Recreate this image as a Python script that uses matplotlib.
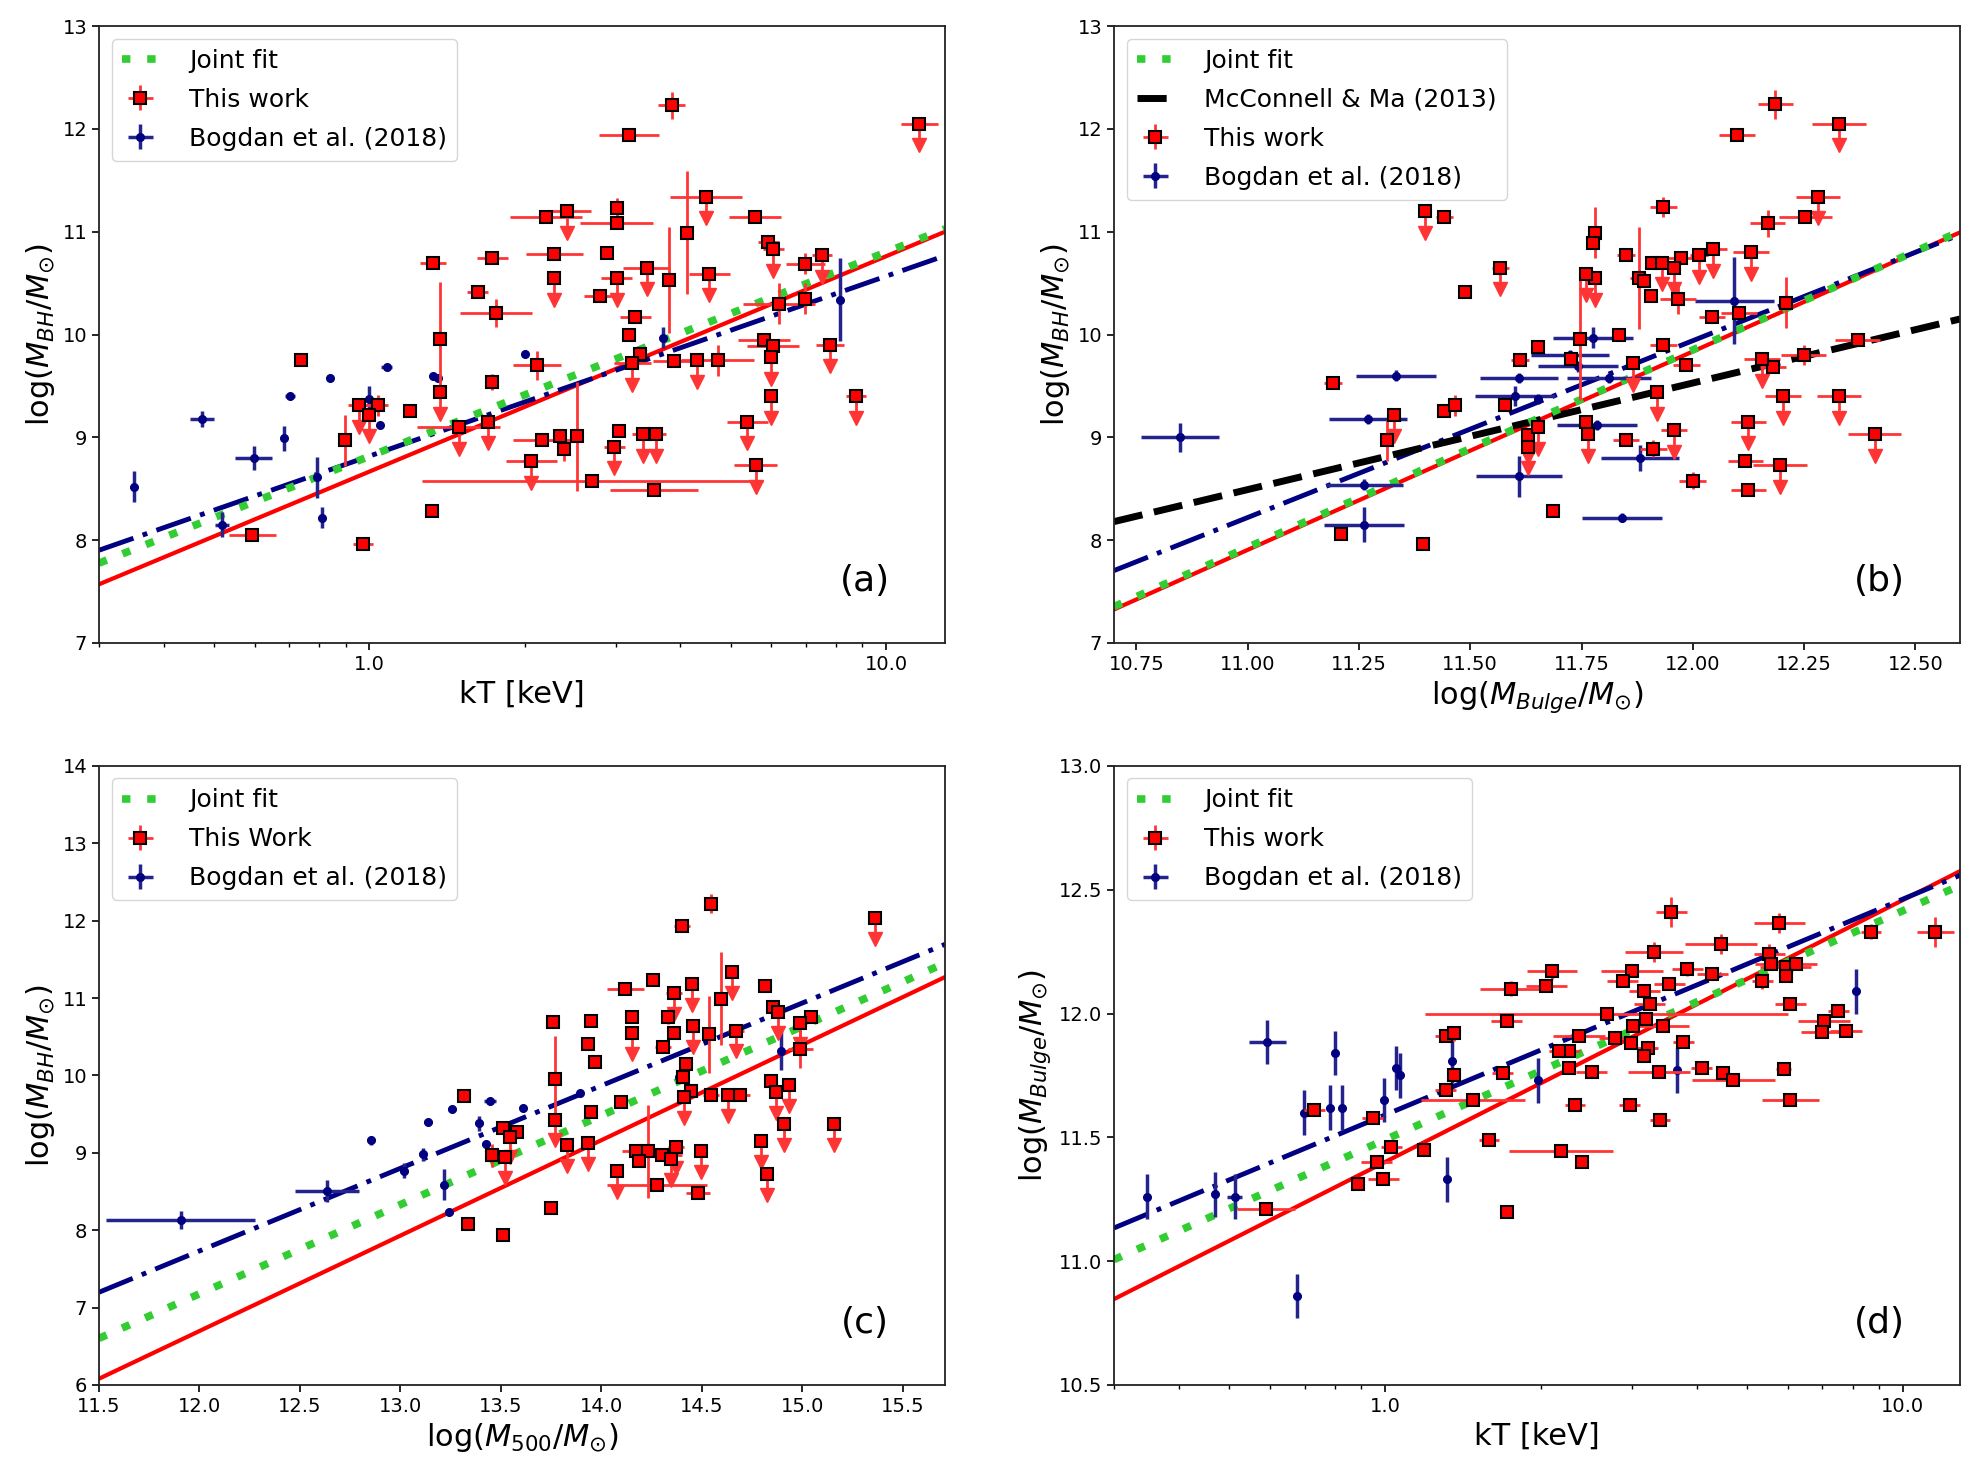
#!/usr/bin/env python3
# -*- coding: utf-8 -*-

import numpy as np
import matplotlib
matplotlib.use("Agg")
import matplotlib.pyplot as plt
from matplotlib.ticker import FormatStrFormatter, NullFormatter, MultipleLocator

plt.rcParams['font.family'] = ['DejaVu Sans']

# ---------------- panel (a): log M_BH vs kT ----------------
a_red_kt = [0.738, 0.594, 0.973, 0.896, 0.954, 1.0, 1.038, 1.20, 1.33, 1.37, 1.37, 1.32, 1.49, 1.70, 1.73, 1.62, 1.76, 1.73,
            3.85, 3.18, 11.6, 4.48, 4.11, 5.58, 5.92, 6.05, 6.98, 7.52, 6.2, 6.98, 7.8, 8.75, 5.8, 6.05, 6.0, 6.0, 5.39, 5.59,
            4.72, 4.31, 3.89, 4.55, 3.80, 3.44, 3.01, 2.89, 3.01, 3.01, 2.41, 2.20, 2.28, 2.28, 2.79, 2.11, 3.27, 3.18, 3.34, 3.23,
            2.16, 2.34, 2.38, 2.52, 2.06, 2.70, 3.04, 2.98, 3.38, 3.59, 3.56]
a_red_m = [9.75, 8.05, 7.96, 8.97, 9.31, 9.22, 9.31, 9.26, 10.70, 9.96, 9.44, 8.28, 9.10, 9.15, 10.74, 10.41, 10.21, 9.54,
           12.23, 11.94, 12.05, 11.34, 10.99, 11.14, 10.90, 10.83, 10.69, 10.77, 10.30, 10.35, 9.90, 9.40, 9.95, 9.89, 9.78, 9.40, 9.15, 8.73,
           9.75, 9.75, 9.74, 10.59, 10.53, 10.65, 10.55, 10.79, 11.23, 11.08, 11.20, 11.14, 10.78, 10.55, 10.37, 9.70, 10.17, 10.00, 9.81, 9.72,
           8.97, 9.01, 8.89, 9.01, 8.77, 8.58, 9.06, 8.91, 9.03, 9.03, 8.49]
a_red_dex = [0.01, 0.045, 0.02, 0.0, 0.02, 0.0, 0.02, 0.01, 0.025, 0.0, 0.0, 0.0, 0.08, 0.0, 0.03, 0.02, 0.07, 0.0,
             0.026, 0.058, 0.036, 0.07, 0.0, 0.05, 0.02, 0.02, 0.037, 0.02, 0.07, 0.0, 0.027, 0.02, 0.05, 0.05, 0.0, 0.0, 0.04, 0.042,
             0.07, 0.0, 0.04, 0.04, 0.0, 0.045, 0.03, 0.01, 0.0, 0.07, 0.048, 0.07, 0.055, 0.0, 0.03, 0.047, 0.03, 0.0, 0.0, 0.035,
             0.056, 0.0, 0.0, 0.0, 0.05, 0.33, 0.0, 0.02, 0.02, 0.02, 0.085]
a_red_dm = [0.05, 0.0, 0.05, 0.25, 0, 0, 0.1, 0.05, 0.05, 0.55, 0, 0, 0, 0, 0.05, 0, 0.14, 0.08,
            0.13, 0.05, 0, 0, 0.6, 0, 0.05, 0, 0.1, 0, 0.2, 0.15, 0, 0, 0, 0, 0, 0, 0, 0,
            0.15, 0, 0, 0, 0.52, 0, 0, 0, 0.1, 0.05, 0, 0, 0, 0, 0, 0.14, 0.05, 0, 0.05, 0,
            0, 0, 0.12, 0.53, 0, 0.05, 0, 0, 0, 0, 0.05]
a_red_lim = [0, 0, 0, 0, 1, 1, 0, 0, 0, 0, 1, 0, 1, 1, 0, 0, 0, 0,
             0, 0, 1, 1, 0, 0, 0, 1, 0, 1, 0, 0, 1, 1, 0, 0, 1, 1, 1, 1,
             0, 1, 0, 1, 0, 1, 1, 0, 0, 0, 1, 0, 0, 1, 0, 0, 0, 0, 0, 1,
             0, 0, 0, 0, 1, 0, 0, 1, 1, 1, 0]

a_blue_kt = [0.351, 0.475, 0.598, 0.519, 0.684, 0.703, 0.839, 0.792, 0.809, 1.0, 1.05, 1.08, 1.33, 1.36, 2.0, 3.70, 8.15]
a_blue_m = [8.52, 9.18, 8.80, 8.15, 8.99, 9.40, 9.58, 8.61, 8.22, 9.37, 9.12, 9.68, 9.60, 9.58, 9.81, 9.97, 10.34]
a_blue_dex = [0.0, 0.023, 0.036, 0.013, 0.0, 0.01, 0.0, 0.0, 0.0, 0.0, 0.0, 0.01, 0.0, 0.0, 0.0, 0.0, 0.0]
a_blue_dm = [0.15, 0.08, 0.12, 0.12, 0.12, 0.03, 0.03, 0.2, 0.1, 0.13, 0.03, 0.03, 0.03, 0.03, 0.03, 0.1, 0.4]

# fits: intercept at log10(kT) = 0, slope
a_fit_joint = (8.815, 1.986)
a_fit_this = (8.666, 2.095)
a_fit_bogdan = (8.817, 1.75)

# ---------------- panel (b): log M_BH vs log M_bulge ----------------
b_red_x = [11.399, 11.442, 11.489, 11.192, 11.209, 11.395, 11.314, 11.329, 11.442, 11.465,
           12.185, 12.099, 12.328, 12.281, 12.253, 12.168, 11.934, 12.131, 12.046, 12.014,
           11.973, 11.958, 11.930, 11.908, 11.878, 11.891, 11.906, 11.966, 11.849, 11.780,
           11.775, 11.780, 11.759, 11.568, 11.746, 11.835, 11.652, 11.611, 11.726, 12.043,
           12.103, 12.210, 11.934, 11.865, 11.985, 11.920, 11.577, 11.630, 11.652, 11.630,
           11.761, 11.765, 11.850, 11.911, 11.958, 12.000, 11.685, 12.155, 12.180, 12.249,
           12.370, 12.202, 12.328, 12.125, 12.118, 12.125, 12.196, 12.408]
b_red_m = [11.20, 11.14, 10.41, 9.53, 8.06, 7.96, 8.97, 9.22, 9.26, 9.31,
           12.24, 11.94, 12.05, 11.34, 11.14, 11.08, 11.24, 10.80, 10.83, 10.77,
           10.74, 10.65, 10.70, 10.70, 10.55, 10.52, 10.37, 10.35, 10.77, 10.99,
           10.89, 10.55, 10.59, 10.65, 9.96, 10.00, 9.88, 9.75, 9.76, 10.17,
           10.21, 10.31, 9.90, 9.72, 9.70, 9.44, 9.31, 9.02, 9.10, 8.91,
           9.15, 9.03, 8.97, 8.89, 9.07, 8.58, 8.28, 9.76, 9.68, 9.80,
           9.95, 9.40, 9.40, 9.15, 8.77, 8.49, 8.73, 9.03]
b_red_dx = [0, 0.019, 0, 0.02, 0, 0, 0, 0, 0, 0,
            0.039, 0.04, 0.06, 0.05, 0.06, 0.04, 0.03, 0.04, 0.03, 0.02,
            0.03, 0, 0, 0, 0.02, 0, 0, 0.04, 0.02, 0,
            0, 0, 0, 0.02, 0, 0, 0, 0.02, 0, 0.03,
            0.04, 0, 0.03, 0, 0.03, 0, 0, 0, 0, 0,
            0, 0, 0.03, 0.03, 0.03, 0.03, 0, 0.04, 0.03, 0.05,
            0.05, 0.04, 0.05, 0.04, 0.04, 0.04, 0.06, 0.06]
b_red_dm = [0, 0, 0, 0.04, 0, 0.04, 0.2, 0, 0.05, 0.1,
            0.14, 0.04, 0, 0, 0, 0.13, 0.1, 0, 0, 0,
            0, 0, 0, 0, 0.5, 0, 0, 0.15, 0, 0.25,
            0, 0, 0.1, 0, 0.6, 0.03, 0.03, 0, 0, 0,
            0, 0.25, 0.05, 0, 0, 0, 0, 0, 0, 0,
            0.05, 0, 0, 0.08, 0, 0.08, 0, 0, 0, 0.1,
            0.05, 0, 0, 0, 0.05, 0.05, 0, 0]
b_red_lim = [1, 0, 0, 0, 0, 0, 0, 1, 0, 0,
             0, 0, 1, 1, 0, 0, 0, 1, 1, 1,
             0, 1, 1, 0, 0, 0, 0, 0, 0, 0,
             0, 1, 1, 1, 0, 0, 0, 0, 0, 0,
             0, 0, 0, 1, 0, 1, 0, 1, 1, 1,
             0, 1, 0, 0, 1, 0, 0, 1, 0, 0,
             0, 1, 1, 1, 0, 0, 1, 1]

b_blue_x = [10.848, 11.333, 11.271, 11.262, 11.262, 12.093, 11.775, 11.724, 11.742,
            11.610, 11.812, 11.600, 11.652, 11.784, 11.881, 11.610, 11.840]
b_blue_m = [9.00, 9.60, 9.18, 8.54, 8.15, 10.33, 9.97, 9.80, 9.69,
            9.58, 9.58, 9.40, 9.37, 9.12, 8.80, 8.62, 8.22]
b_blue_dx = [0.088, 0.09, 0.088, 0.087, 0.09, 0.089, 0.09, 0.088, 0.09,
             0.088, 0.095, 0.09, 0.0, 0.09, 0.088, 0.096, 0.09]
b_blue_dm = [0.14, 0.05, 0.05, 0.05, 0.17, 0.42, 0.1, 0.05, 0.05,
             0.05, 0.05, 0.1, 0.05, 0.05, 0.13, 0.2, 0.04]

# fits: value at log M_bulge = 11.5, slope
b_fit_joint = (8.89, 1.92)
b_fit_this = (8.87, 1.93)
b_fit_bogdan = (9.08, 1.72)
b_fit_mcconnell = (9.01, 1.037)

# ---------------- panel (c): log M_BH vs log M_500 ----------------
c_red_x = [13.315, 13.334, 13.455, 13.512, 13.512, 13.545, 13.578, 13.520, 14.547, 14.401,
           15.364, 14.650, 14.594, 14.816, 14.854, 14.879, 14.991, 15.044, 14.991, 14.120,
           14.257, 14.360, 14.453, 14.153, 14.153, 14.332, 14.360, 14.307, 14.456, 14.534,
           14.668, 14.423, 14.406, 14.445, 14.411, 14.547, 14.630, 14.691, 14.845, 14.870,
           14.933, 14.907, 15.157, 14.792, 14.826, 13.760, 13.768, 13.768, 13.946, 13.934,
           13.967, 13.947, 13.934, 13.831, 14.100, 14.174, 14.232, 14.188, 14.300, 14.370,
           14.348, 14.497, 14.080, 14.277, 14.480, 13.747]
c_red_m = [9.74, 8.08, 8.97, 7.94, 9.32, 9.21, 9.27, 8.94, 12.22, 11.93,
           12.03, 11.34, 10.99, 11.15, 10.88, 10.82, 10.68, 10.76, 10.34, 11.12,
           11.23, 11.06, 11.18, 10.76, 10.55, 10.76, 10.55, 10.37, 10.64, 10.53,
           10.58, 10.15, 9.98, 9.80, 9.72, 9.75, 9.75, 9.75, 9.93, 9.78,
           9.88, 9.37, 9.37, 9.15, 8.73, 10.69, 9.96, 9.43, 10.71, 10.40,
           10.17, 9.53, 9.13, 9.10, 9.66, 9.02, 9.02, 8.89, 8.97, 9.07,
           8.92, 9.02, 8.77, 8.59, 8.48, 8.29]
c_red_dx = [0, 0, 0, 0, 0.02, 0, 0.02, 0, 0, 0.04,
            0, 0.03, 0, 0.03, 0, 0.03, 0.03, 0.03, 0.06, 0.09,
            0, 0.04, 0.02, 0.03, 0, 0, 0, 0.04, 0.03, 0,
            0.04, 0, 0, 0.02, 0, 0.04, 0.03, 0.05, 0.03, 0,
            0, 0, 0, 0, 0, 0, 0, 0, 0, 0,
            0.02, 0, 0.02, 0.02, 0.03, 0.07, 0, 0, 0.1, 0.04,
            0, 0, 0.02, 0.25, 0.06, 0]
c_red_dm = [0, 0, 0.15, 0, 0, 0, 0, 0, 0.12, 0.05,
            0, 0, 0.6, 0, 0.1, 0, 0, 0, 0.25, 0,
            0.05, 0, 0, 0, 0, 0.1, 0, 0, 0, 0.5,
            0, 0.05, 0.05, 0, 0, 0, 0, 0.08, 0, 0,
            0, 0, 0, 0, 0, 0, 0.55, 0, 0, 0,
            0, 0, 0, 0, 0.05, 0, 0.6, 0, 0, 0,
            0, 0, 0, 0.05, 0, 0]
c_red_lim = [0, 0, 0, 0, 0, 1, 0, 1, 0, 0,
             1, 1, 0, 0, 0, 1, 1, 0, 0, 0,
             0, 1, 1, 0, 1, 0, 0, 0, 1, 0,
             1, 0, 0, 0, 1, 0, 1, 0, 0, 1,
             1, 1, 1, 1, 1, 0, 0, 1, 0, 0,
             0, 0, 1, 1, 0, 0, 0, 0, 0, 1,
             1, 1, 1, 0, 0, 0]

c_blue_x = [11.907, 12.636, 12.854, 13.017, 13.110, 13.136, 13.215, 13.240,
            13.257, 13.390, 13.426, 13.445, 13.608, 13.893, 14.385, 14.895]
c_blue_m = [8.13, 8.51, 9.16, 8.77, 8.98, 9.40, 8.59, 8.23,
            9.56, 9.38, 9.11, 9.67, 9.58, 9.77, 9.98, 10.32]
c_blue_dx = [0.37, 0.16, 0.02, 0.02, 0.02, 0.02, 0.0, 0.02,
             0.02, 0.02, 0.02, 0.03, 0.0, 0.0, 0.0, 0.0]
c_blue_dm = [0.12, 0.14, 0.06, 0.1, 0.08, 0.03, 0.2, 0.03,
             0.03, 0.1, 0.05, 0.03, 0.03, 0.03, 0.08, 0.25]

# fits: value at log M_500 = 13.0, slope
c_fit_joint = (8.33, 1.152)
c_fit_this = (7.93, 1.233)
c_fit_bogdan = (8.80, 1.068)

# ---------------- panel (d): log M_bulge vs kT ----------------
d_red_kt = [0.59, 0.731, 0.887, 0.948, 0.964, 0.993, 1.03, 1.19, 1.31, 1.36,
            1.31, 1.36, 1.48, 1.59, 3.57, 5.78, 4.46, 3.31, 2.10, 1.75,
            2.05, 3.0, 2.88, 3.17, 3.54, 3.84, 4.29, 5.52, 5.56, 5.94,
            6.22, 5.94, 5.36, 6.07, 8.69, 11.56, 7.51, 7.04, 6.97, 7.77,
            5.89, 6.07, 4.09, 4.5, 4.71, 3.77, 3.44, 3.20, 3.25, 3.02,
            2.99, 3.22, 3.17, 2.78, 2.68, 2.37, 2.27, 2.17, 2.27, 2.51,
            3.38, 1.69, 1.72, 2.33, 2.97, 3.40, 2.19, 2.40, 1.72]
d_red_m = [11.21, 11.61, 11.31, 11.58, 11.40, 11.33, 11.46, 11.45, 11.69, 11.75,
           11.91, 11.92, 11.65, 11.49, 12.41, 12.365, 12.28, 12.25, 12.17, 12.10,
           12.11, 12.17, 12.13, 12.09, 12.12, 12.18, 12.16, 12.24, 12.20, 12.19,
           12.20, 12.15, 12.13, 12.04, 12.33, 12.33, 12.01, 11.97, 11.925, 11.93,
           11.775, 11.65, 11.78, 11.76, 11.73, 11.885, 11.95, 11.98, 12.04, 11.95,
           11.88, 11.86, 11.83, 11.90, 12.0, 11.91, 11.85, 11.85, 11.78, 11.765,
           11.765, 11.76, 11.97, 11.63, 11.63, 11.57, 11.445, 11.40, 11.20]
d_red_dex = [0.056, 0.02, 0, 0.02, 0.03, 0.03, 0.02, 0, 0.02, 0,
             0.02, 0, 0.1, 0.02, 0.03, 0.05, 0.07, 0.056, 0.048, 0.06,
             0.04, 0.06, 0.03, 0.03, 0.03, 0.03, 0.03, 0.03, 0.03, 0.05,
             0.04, 0, 0.02, 0.03, 0.02, 0.036, 0.02, 0.05, 0.04, 0.03,
             0.015, 0.055, 0.02, 0, 0.08, 0.02, 0.05, 0, 0.03, 0,
             0, 0.02, 0, 0.03, 0.35, 0.05, 0.02, 0.02, 0, 0.03,
             0.06, 0.02, 0.03, 0.02, 0.02, 0.02, 0.1, 0, 0]
d_red_dm = [0, 0, 0, 0, 0, 0, 0, 0, 0, 0,
            0, 0.03, 0, 0, 0.06, 0.04, 0.04, 0.04, 0.03, 0.03,
            0, 0, 0, 0.03, 0, 0.03, 0, 0.04, 0, 0,
            0, 0, 0.03, 0, 0.03, 0.06, 0, 0, 0, 0,
            0, 0, 0, 0, 0, 0, 0, 0.02, 0, 0,
            0, 0, 0, 0, 0, 0, 0, 0, 0, 0,
            0, 0, 0, 0, 0, 0, 0, 0, 0]
d_red_lim = [0] * len(d_red_kt)

d_blue_kt = [0.347, 0.471, 0.513, 0.593, 0.677, 0.697, 0.785, 0.803, 0.828,
             0.995, 1.05, 1.07, 1.32, 1.35, 1.98, 3.66, 8.13]
d_blue_m = [11.26, 11.27, 11.26, 11.885, 10.86, 11.60, 11.62, 11.84, 11.62,
            11.65, 11.78, 11.75, 11.33, 11.81, 11.73, 11.77, 12.09]
d_blue_dex = [0.0, 0.0, 0.015, 0.036, 0.0, 0.0, 0.0, 0.0, 0.0,
              0.0, 0.0, 0.0, 0.0, 0.0, 0.0, 0.0, 0.0]
d_blue_dm = [0.09] * len(d_blue_kt)

# fits: intercept at log10(kT) = 0, slope
d_fit_joint = (11.49, 0.925)
d_fit_this = (11.40, 1.058)
d_fit_bogdan = (11.59, 0.872)

# ---------------- styles ----------------
RED_ERR = '#ff3535'
BLUE_ERR = '#24248c'
RED_LINE = dict(color='red', lw=3, zorder=2)
BLUE_LINE = dict(color='navy', lw=3.5, dashes=(7.5, 2, 1, 2), zorder=2)
GREEN_LINE = dict(color='limegreen', lw=5.5, dashes=(1.1, 2.2), zorder=2.2)
BLACK_LINE = dict(color='black', lw=5, dashes=(4.2, 1.7), zorder=2.1)


def make_xerr(x, dx, logx):
    x = np.asarray(x, float)
    dx = np.asarray(dx, float)
    if logx:
        return np.vstack([x - x / 10 ** dx, x * 10 ** dx - x])
    return np.vstack([dx, dx])


def plot_fit(ax, fit, pivot, logx, label=None, **style):
    intercept, slope = fit
    lo, hi = ax.get_xlim()
    if logx:
        xs = np.logspace(np.log10(lo), np.log10(hi), 200)
        ys = intercept + slope * np.log10(xs)
    else:
        xs = np.linspace(lo, hi, 200)
        ys = intercept + slope * (xs - pivot)
    ax.plot(xs, ys, label=label, **style)


def plot_red(ax, x, m, dx, dm, lim, logx, arrow, label):
    x = np.asarray(x, float)
    m = np.asarray(m, float)
    dm = np.asarray(dm, float)
    xe = make_xerr(x, dx, logx)
    lim = np.asarray(lim, bool)
    ok = ~lim
    style = dict(fmt='s', ms=9, mfc='red', mec='black', mew=1.5,
                 ecolor=RED_ERR, elinewidth=2, capsize=0, zorder=4)
    ax.errorbar(x[ok], m[ok], xerr=xe[:, ok], yerr=dm[ok], label=label, **style)
    if lim.any():
        n = lim.sum()
        # upper limits: bar down from the point, ending in an arrow head
        ax.errorbar(x[lim], m[lim], xerr=xe[:, lim],
                    yerr=[np.full(n, arrow), np.zeros(n)], **style)
        ax.plot(x[lim], m[lim] - arrow, 'v', color=RED_ERR, ms=9.5, zorder=3.9)


def plot_blue(ax, x, m, dx, dm, logx):
    xe = make_xerr(x, dx, logx)
    ax.errorbar(x, m, xerr=xe, yerr=dm, fmt='o', ms=5.5, color='navy',
                ecolor=BLUE_ERR, elinewidth=2.5, capsize=0, zorder=3,
                label='Bogdan et al. (2018)')


def style_axes(ax, xlabel, ylabel, letter, logx):
    ax.set_xlabel(xlabel, fontsize=22)
    ax.set_ylabel(ylabel, fontsize=22)
    ax.tick_params(which='major', labelsize=14, width=1.2, length=5)
    ax.tick_params(which='minor', width=1.0, length=3)
    if logx:
        ax.xaxis.set_major_formatter(FormatStrFormatter('%.1f'))
        ax.xaxis.set_minor_formatter(NullFormatter())
    for sp in ax.spines.values():
        sp.set_linewidth(1.3)
        sp.set_color('#222222')
    ax.text(0.905, 0.10, letter, transform=ax.transAxes, fontsize=26,
            ha='center', va='center')
    ax.legend(loc='upper left', fontsize=18, handlelength=1.5,
              handletextpad=1.2, labelspacing=0.6, borderaxespad=0.5)


if __name__ == "__main__":
    fig = plt.figure(figsize=(19.84, 14.71), dpi=100)

    # (a)
    ax = fig.add_axes([0.0499, 0.5629, 0.4264, 0.4194])
    ax.set_xscale('log')
    ax.set_xlim(0.30, 13.0)
    ax.set_ylim(7, 13)
    ax.yaxis.set_major_locator(MultipleLocator(1))
    plot_fit(ax, a_fit_this, 0, True, **RED_LINE)
    plot_fit(ax, a_fit_bogdan, 0, True, **BLUE_LINE)
    plot_fit(ax, a_fit_joint, 0, True, label='Joint fit', **GREEN_LINE)
    plot_red(ax, a_red_kt, a_red_m, a_red_dex, a_red_dm, a_red_lim, True, 0.21, 'This work')
    plot_blue(ax, a_blue_kt, a_blue_m, a_blue_dex, a_blue_dm, True)
    style_axes(ax, 'kT [keV]', r'log($M_{BH}/M_{\odot}$)', '(a)', True)

    # (b)
    ax = fig.add_axes([0.5615, 0.5629, 0.4264, 0.4194])
    ax.set_xlim(10.70, 12.60)
    ax.set_ylim(7, 13)
    ax.xaxis.set_major_locator(MultipleLocator(0.25))
    ax.xaxis.set_major_formatter(FormatStrFormatter('%.2f'))
    ax.yaxis.set_major_locator(MultipleLocator(1))
    plot_fit(ax, b_fit_this, 11.5, False, **RED_LINE)
    plot_fit(ax, b_fit_bogdan, 11.5, False, **BLUE_LINE)
    plot_fit(ax, b_fit_joint, 11.5, False, label='Joint fit', **GREEN_LINE)
    plot_fit(ax, b_fit_mcconnell, 11.5, False, label='McConnell & Ma (2013)', **BLACK_LINE)
    plot_red(ax, b_red_x, b_red_m, b_red_dx, b_red_dm, b_red_lim, False, 0.21, 'This work')
    plot_blue(ax, b_blue_x, b_blue_m, b_blue_dx, b_blue_dm, False)
    style_axes(ax, r'log($M_{Bulge}/M_{\odot}$)', r'log($M_{BH}/M_{\odot}$)', '(b)', False)

    # (c)
    ax = fig.add_axes([0.0499, 0.0585, 0.4264, 0.4208])
    ax.set_xlim(11.5, 15.71)
    ax.set_ylim(6, 14)
    ax.xaxis.set_major_locator(MultipleLocator(0.5))
    ax.xaxis.set_major_formatter(FormatStrFormatter('%.1f'))
    ax.yaxis.set_major_locator(MultipleLocator(1))
    plot_fit(ax, c_fit_this, 13.0, False, **RED_LINE)
    plot_fit(ax, c_fit_bogdan, 13.0, False, **BLUE_LINE)
    plot_fit(ax, c_fit_joint, 13.0, False, label='Joint fit', **GREEN_LINE)
    plot_red(ax, c_red_x, c_red_m, c_red_dx, c_red_dm, c_red_lim, False, 0.27, 'This Work')
    plot_blue(ax, c_blue_x, c_blue_m, c_blue_dx, c_blue_dm, False)
    style_axes(ax, r'log($M_{500}/M_{\odot}$)', r'log($M_{BH}/M_{\odot}$)', '(c)', False)

    # (d)
    ax = fig.add_axes([0.5615, 0.0585, 0.4264, 0.4208])
    ax.set_xscale('log')
    ax.set_xlim(0.30, 12.9)
    ax.set_ylim(10.5, 13.0)
    ax.yaxis.set_major_locator(MultipleLocator(0.5))
    ax.yaxis.set_major_formatter(FormatStrFormatter('%.1f'))
    plot_fit(ax, d_fit_this, 0, True, **RED_LINE)
    plot_fit(ax, d_fit_bogdan, 0, True, **BLUE_LINE)
    plot_fit(ax, d_fit_joint, 0, True, label='Joint fit', **GREEN_LINE)
    plot_red(ax, d_red_kt, d_red_m, d_red_dex, d_red_dm, d_red_lim, True, 0.09, 'This work')
    plot_blue(ax, d_blue_kt, d_blue_m, d_blue_dex, d_blue_dm, True)
    style_axes(ax, 'kT [keV]', r'log($M_{Bulge}/M_{\odot}$)', '(d)', True)

    fig.savefig('out.png', dpi=100)
